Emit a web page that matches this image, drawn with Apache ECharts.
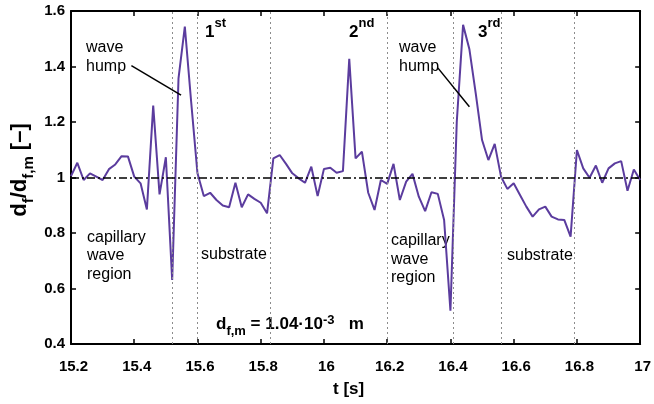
<!DOCTYPE html>
<html><head><meta charset="utf-8">
<script src="https://cdn.jsdelivr.net/npm/echarts@6/dist/echarts.min.js"></script>
<style>html,body{margin:0;padding:0;background:#fff}#c{width:654px;height:404px}</style>
</head><body><div id="c"></div>
<script>
// ---- data ----
const times = [15.20,15.22,15.24,15.26,15.28,15.30,15.32,15.34,15.36,15.38,
  15.40,15.42,15.44,15.46,15.48,15.50,15.52,15.54,15.56,15.58,
  15.60,15.62,15.64,15.66,15.68,15.70,15.72,15.74,15.76,15.78,
  15.80,15.82,15.84,15.86,15.88,15.90,15.92,15.94,15.96,15.98,
  16.00,16.02,16.04,16.06,16.08,16.10,16.12,16.14,16.16,16.18,
  16.20,16.22,16.24,16.26,16.28,16.30,16.32,16.34,16.36,16.38,
  16.40,16.42,16.44,16.46,16.48,16.50,16.52,16.54,16.56,16.58,
  16.60,16.62,16.64,16.66,16.68,16.70,16.72,16.74,16.76,16.78,
  16.80,16.82,16.84,16.86,16.88,16.90,16.92,16.94,16.96,16.98,17.00];
const ratio = [1.005,1.053,0.991,1.015,1.003,0.991,1.030,1.047,1.077,1.076,
  1.003,0.979,0.885,1.259,0.939,1.073,0.631,1.357,1.544,1.273,
  1.015,0.933,0.945,0.919,0.899,0.893,0.981,0.893,0.939,0.923,
  0.909,0.871,1.069,1.081,1.049,1.015,0.997,0.981,1.039,0.933,
  1.031,1.035,1.017,1.023,1.428,1.069,1.093,0.945,0.883,0.991,
  0.977,1.049,0.919,0.985,1.013,0.931,0.879,0.947,0.941,0.847,
  0.520,1.200,1.550,1.462,1.303,1.135,1.063,1.121,1.003,0.959,
  0.979,0.937,0.895,0.859,0.885,0.895,0.859,0.849,0.847,0.787,
  1.099,1.033,0.999,1.043,0.981,1.033,1.051,1.059,0.952,1.029,0.991];
const xTickLabels = ['15.2','15.4','15.6','15.8','16','16.2','16.4','16.6','16.8','17'];
const yTickLabels = ['0.4','0.6','0.8','1','1.2','1.4','1.6'];
const dividerTimes = [15.52, 15.60, 15.83, 16.20, 16.41, 16.56, 16.79];
const referenceLevel = 1;
const pointerLines = [[[15.391, 1.403], [15.548, 1.297]], [[16.360, 1.395], [16.460, 1.255]]];

// ---- chart ----
const FF = '"Liberation Sans", Arial, Helvetica, sans-serif';
const xMin = +xTickLabels[0], xMax = +xTickLabels[xTickLabels.length - 1];
const xStep = +(xTickLabels[1] - xTickLabels[0]).toFixed(4);
const yMin = +yTickLabels[0], yMax = +yTickLabels[yTickLabels.length - 1];
const yStep = +(yTickLabels[1] - yTickLabels[0]).toFixed(4);
const frameLine = { lineStyle: { color: '#000', width: 2 } };
const tick = { inside: true, length: 5, lineStyle: { color: '#000', width: 1.5 } };
const boldLabel = { color: '#000', fontSize: 15, fontWeight: 'bold', fontFamily: FF };

const chart = echarts.init(document.getElementById('c'), null, { renderer: 'canvas' });
chart.setOption({
  animation: false,
  backgroundColor: '#fff',
  grid: { left: 71, right: 11, top: 11, bottom: 60, containLabel: false },
  xAxis: [
    { type: 'value', min: xMin, max: xMax, interval: xStep, position: 'bottom',
      axisLine: frameLine, axisTick: tick, splitLine: { show: false },
      axisLabel: Object.assign({ margin: 15, padding: [0, 0, 0, 5],
        formatter: v => xTickLabels.find(s => Math.abs(+s - v) < 1e-6) || '' }, boldLabel),
      name: 't [s]', nameLocation: 'middle', nameGap: 37,
      nameTextStyle: { color: '#000', fontSize: 17, fontWeight: 'bold', fontFamily: FF, padding: [0, 14, 0, 0] } },
    { type: 'value', min: xMin, max: xMax, interval: xStep, position: 'top',
      axisLine: frameLine, axisTick: tick, axisLabel: { show: false }, splitLine: { show: false } }
  ],
  yAxis: [
    { type: 'value', min: yMin, max: yMax, interval: yStep, position: 'left',
      axisLine: frameLine, axisTick: tick, splitLine: { show: false },
      axisLabel: Object.assign({ margin: 6, padding: [3, 0, 0, 0],
        formatter: v => yTickLabels.find(s => Math.abs(+s - v) < 1e-6) || '' }, boldLabel) },
    { type: 'value', min: yMin, max: yMax, interval: yStep, position: 'right',
      axisLine: frameLine, axisTick: tick, axisLabel: { show: false }, splitLine: { show: false } }
  ],
  series: [
    { name: 'guides', type: 'line', data: [], z: 1, silent: true,
      markLine: { silent: true, symbol: ['none', 'none'], label: { show: false },
        data: dividerTimes.map(t => ({ xAxis: t, lineStyle: { color: '#8c8c8c', width: 1, type: [2, 3] } }))
          .concat([{ yAxis: referenceLevel, lineStyle: { color: '#000', width: 1.5, type: [8, 3, 2, 3] } }]) } },
    { name: 'df/df,m', type: 'line', z: 3, showSymbol: false, symbol: 'none',
      data: times.map((t, i) => [t, ratio[i]]),
      lineStyle: { color: '#5b3c9e', width: 2 } },
    { name: 'pointers', type: 'line', data: [], z: 4, silent: true,
      markLine: { silent: true, symbol: ['none', 'none'], label: { show: false },
        data: pointerLines.map(p => [{ coord: p[0] }, { coord: p[1] }]),
        lineStyle: { color: '#000', width: 1.5, type: 'solid' } } }
  ],
  graphic: [
    { type: 'text', x: 20, y: 170, rotation: Math.PI / 2,
      style: { text: '{m|d}{s|f}{m|/d}{s|f,m}{m| [–]}', align: 'center', verticalAlign: 'middle',
        rich: { m: { fontSize: 22, fontWeight: 'bold', fontFamily: FF, lineHeight: 24, fill: '#000' },
                s: { fontSize: 15, fontWeight: 'bold', fontFamily: FF, lineHeight: 15, padding: [18, 0, 0, 0], fill: '#000' } } } },
    { type: 'text', x: 86, y: 38.5, style: { text: 'wave\nhump', fontSize: 16, fontFamily: FF, lineHeight: 18.5, fill: '#000', verticalAlign: 'top' } },
    { type: 'text', x: 399, y: 38.5, style: { text: 'wave\nhump', fontSize: 16, fontFamily: FF, lineHeight: 18.5, fill: '#000', verticalAlign: 'top' } },
    { type: 'text', x: 87, y: 228.25, style: { text: 'capillary\nwave\nregion', fontSize: 16, fontFamily: FF, lineHeight: 18.5, fill: '#000', verticalAlign: 'top' } },
    { type: 'text', x: 391, y: 231.75, style: { text: 'capillary\nwave\nregion', fontSize: 16, fontFamily: FF, lineHeight: 18.5, fill: '#000', verticalAlign: 'top' } },
    { type: 'text', x: 201, y: 254.4, style: { text: 'substrate', fontSize: 16, fontFamily: FF, fill: '#000', verticalAlign: 'middle' } },
    { type: 'text', x: 507, y: 255.4, style: { text: 'substrate', fontSize: 16, fontFamily: FF, fill: '#000', verticalAlign: 'middle' } },
    { type: 'text', x: 205, y: 32, style: { text: '{m|1}{p|st}', verticalAlign: 'middle',
        rich: { m: { fontSize: 17, fontWeight: 'bold', fontFamily: FF, fill: '#000' },
                p: { fontSize: 13, fontWeight: 'bold', fontFamily: FF, lineHeight: 13, padding: [0, 0, 17, 0], fill: '#000' } } } },
    { type: 'text', x: 349, y: 32, style: { text: '{m|2}{p|nd}', verticalAlign: 'middle',
        rich: { m: { fontSize: 17, fontWeight: 'bold', fontFamily: FF, fill: '#000' },
                p: { fontSize: 13, fontWeight: 'bold', fontFamily: FF, lineHeight: 13, padding: [0, 0, 17, 0], fill: '#000' } } } },
    { type: 'text', x: 478, y: 32, style: { text: '{m|3}{p|rd}', verticalAlign: 'middle',
        rich: { m: { fontSize: 17, fontWeight: 'bold', fontFamily: FF, fill: '#000' },
                p: { fontSize: 13, fontWeight: 'bold', fontFamily: FF, lineHeight: 13, padding: [0, 0, 17, 0], fill: '#000' } } } },
    { type: 'text', x: 216, y: 324, style: { text: '{m|d}{s|f,m}{m| = 1.04·10}{p|-3}{m|   m}', verticalAlign: 'middle',
        rich: { m: { fontSize: 17, fontWeight: 'bold', fontFamily: FF, lineHeight: 19, fill: '#000' },
                s: { fontSize: 13, fontWeight: 'bold', fontFamily: FF, lineHeight: 13, padding: [15, 0, 0, 0], fill: '#000' },
                p: { fontSize: 13, fontWeight: 'bold', fontFamily: FF, lineHeight: 13, padding: [0, 0, 8, 0], fill: '#000' } } } }
  ]
});
</script>
</body></html>
